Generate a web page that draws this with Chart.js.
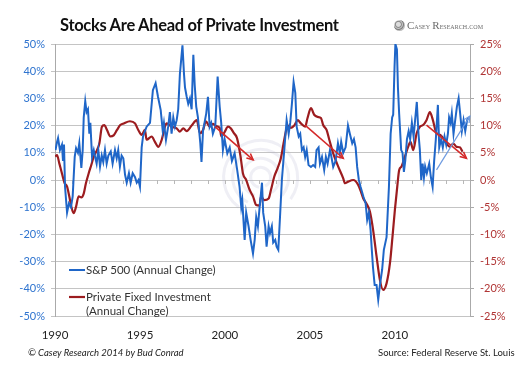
<!DOCTYPE html>
<html>
<head>
<meta charset="utf-8">
<script src="https://cdn.jsdelivr.net/npm/chart.js@4.4.1/dist/chart.umd.min.js"></script>
<style>
  html, body { margin: 0; padding: 0; background: #fff; }
  #wrap { position: relative; width: 521px; height: 380px; overflow: hidden; font-family: Lato, "Open Sans", sans-serif; }
  #chart { position: absolute; left: 0; top: 0; }
  #title { position: absolute; left: 60px; top: 15px; font-weight: bold; font-size: 16.5px; letter-spacing: -0.3px; color: #111; white-space: nowrap; }
  #logo { position: absolute; left: 394px; top: 19px; white-space: nowrap; color: #6b6b6b; font-family: "Liberation Serif", "DejaVu Serif", serif; font-size: 9.2px; font-variant: small-caps; }
  #logo .ico { display: inline-block; width: 11px; height: 11px; border-radius: 50%; vertical-align: -2px; margin-right: 2px; background: radial-gradient(circle at 40% 40%, #ddd 0 2px, #888 3px, #ccc 4px, #777 5px, #bbb 6px); }
  #logo .big { font-size: 11px; }
  #credit { position: absolute; left: 28px; top: 347px; font-style: italic; font-size: 9.5px; color: #222; white-space: nowrap; }
  #source { position: absolute; left: 378px; top: 347px; font-size: 9.5px; color: #222; white-space: nowrap; }
</style>
</head>
<body>
<div id="wrap">
  <canvas id="chart" width="521" height="380"></canvas>
  <div id="title">Stocks Are Ahead of Private Investment</div>
  <div id="logo"><span class="ico"></span><span class="big">C</span>asey <span class="big">R</span>esearch.com</div>
  <div id="credit">© Casey Research 2014 by Bud Conrad</div>
  <div id="source">Source: Federal Reserve St. Louis</div>
</div>
<script>
// S&P 500, annual % change (left axis)
var spxYears = [
  1990.03, 1990.12, 1990.18, 1990.29, 1990.41, 1990.47, 1990.53, 1990.59, 1990.71, 1990.82, 1990.94,
  1991.04, 1991.16, 1991.24, 1991.35, 1991.43, 1991.55, 1991.63, 1991.69, 1991.78, 1991.86, 1991.94,
  1992.02, 1992.08, 1992.18, 1992.28, 1992.35, 1992.45, 1992.55, 1992.65, 1992.75, 1992.84, 1992.94,
  1993.04, 1993.14, 1993.28, 1993.39, 1993.53, 1993.63, 1993.72, 1993.82, 1993.92,
  1994.02, 1994.12, 1994.22, 1994.35, 1994.45, 1994.57, 1994.71, 1994.81, 1994.91,
  1995.00, 1995.10, 1995.18, 1995.39, 1995.59, 1995.76, 1995.92,
  1996.06, 1996.22, 1996.34, 1996.41, 1996.53, 1996.66, 1996.76, 1996.86, 1996.96,
  1997.06, 1997.16, 1997.25, 1997.35, 1997.50, 1997.59, 1997.65, 1997.75, 1997.84, 1997.94,
  1998.04, 1998.14, 1998.22, 1998.31, 1998.41, 1998.55, 1998.62, 1998.71, 1998.90,
  1999.00, 1999.10, 1999.19, 1999.29, 1999.43, 1999.57, 1999.69, 1999.78, 1999.88, 1999.98,
  2000.14, 2000.28, 2000.41, 2000.57, 2000.72, 2000.86, 2000.96,
  2001.02, 2001.16, 2001.25, 2001.39, 2001.51, 2001.65, 2001.75, 2001.84, 2001.94,
  2002.04, 2002.12, 2002.18, 2002.25, 2002.37, 2002.45, 2002.57, 2002.65, 2002.76, 2002.84, 2002.96,
  2003.04, 2003.14, 2003.24, 2003.35, 2003.49, 2003.63, 2003.75, 2003.84, 2003.94,
  2004.04, 2004.14, 2004.22, 2004.34, 2004.43, 2004.53, 2004.63, 2004.72, 2004.81, 2004.92,
  2005.06, 2005.19, 2005.31, 2005.39, 2005.51, 2005.59, 2005.71, 2005.84, 2005.94,
  2006.04, 2006.18, 2006.25, 2006.37, 2006.51, 2006.65, 2006.76, 2006.84, 2006.96,
  2007.10, 2007.24, 2007.35, 2007.49, 2007.59, 2007.69, 2007.78, 2007.88, 2007.98,
  2008.14, 2008.28, 2008.37, 2008.47, 2008.57, 2008.63, 2008.71, 2008.81, 2008.92,
  2009.02, 2009.12, 2009.25, 2009.35, 2009.51, 2009.65, 2009.75, 2009.84, 2009.90, 2009.98,
  2010.03, 2010.12, 2010.18, 2010.25, 2010.37, 2010.45, 2010.53, 2010.61, 2010.71, 2010.81, 2010.90,
  2011.00, 2011.10, 2011.19, 2011.29, 2011.39, 2011.47, 2011.55, 2011.63, 2011.71, 2011.78, 2011.88,
  2012.02, 2012.12, 2012.22, 2012.31, 2012.41, 2012.53, 2012.61, 2012.72, 2012.82, 2012.92,
  2013.02, 2013.12, 2013.19, 2013.28, 2013.35, 2013.45, 2013.55, 2013.65, 2013.75, 2013.84, 2013.94,
  2014.04, 2014.14, 2014.25, 2014.34
];
var spxChange = [
  11, 14, 15.4, 11, 13, 7, 13, -2.5, -12, -8.6, -10,
  -6, 8.5, 11.7, 10, 13.5, 4.4, 11, 23, 29, 25, 26,
  17, 21, 8.5, 11, 8.8, 6, 11, 5, 9, 6.6, 11,
  6, 9, 10.5, 6, 11, 8, 11, 5, 9,
  8, 2, -1, 2.5, -1, 2.5, 1, -1, 0,
  -2.5, 12, 16, 19.6, 21, 33, 35.6,
  30.6, 25.7, 18, 21, 14.7, 19.6, 25, 17, 23,
  19.6, 22, 26, 39, 49.5, 39, 34, 30.6, 28, 30,
  26, 46, 35, 27, 23, 13.5, 6.6, 18, 24.5,
  30.6, 19.6, 21, 17, 19.6, 38, 27, 21, 11, 15,
  9.8, 12, 7, 9.8, 3.7, -2.5, -10,
  -7.5, -22, -12, -17, -22, -27, -22, -13.6, -17,
  -10, -4.9, -1, -12, -17, -24.5, -17, -19.6, -17, -23, -22,
  -24.5, -25.7, -13.6, 0, 11, 22, 17, 21, 28,
  36, 32, 19.6, 16, 17, 11, 12, 8.5, 11, 5.5,
  4.8, 5.5, 4.8, 11, 12, 6, 8.5, 3.7, 8.5,
  6, 11, 9, 4.8, 7, 13.5, 9.8, 14, 10,
  12, 20, 17, 13.5, 15, 12, 4.8, 0, -2.5,
  -6, -8.6, -14.7, -12, -18.4, -24.5, -32, -38.6, -38.6,
  -44, -38.6, -33, -25.7, -21, -2.5, 17, 23, 24, 41.6,
  50, 48, 34, 24.5, 11, 10, 3, 7, 15, 18, 15,
  21, 16, 22, 28.7, 17, 11, 0, 6, 1, 5, 2.5,
  6, 1, -2.5, 7, 15, 27.6, 12, 15, 12, 16,
  13, 17, 23, 21, 24.5, 17, 22, 27, 30, 24.5, 18,
  22, 18, 22, 23
];

// Private fixed investment, annual % change (right axis)
var pfiYears = [
  1990.02, 1990.12, 1990.25, 1990.41, 1990.57, 1990.71, 1990.84, 1990.96,
  1991.10, 1991.24, 1991.39, 1991.55, 1991.69, 1991.82, 1991.98,
  1992.14, 1992.28, 1992.47, 1992.61, 1992.76, 1992.90,
  1993.06, 1993.25, 1993.45, 1993.65, 1993.84,
  1994.04, 1994.41, 1994.71, 1994.90,
  1995.10, 1995.29, 1995.39, 1995.69, 1995.88,
  1996.08, 1996.28, 1996.47, 1996.57, 1996.86,
  1997.16, 1997.35, 1997.55, 1997.75,
  1998.04, 1998.34, 1998.53, 1998.71, 1998.88,
  1999.10, 1999.29, 1999.49, 1999.69, 1999.79, 1999.98,
  2000.18, 2000.34, 2000.53, 2000.71, 2000.92,
  2001.06, 2001.25, 2001.45, 2001.65, 2001.84,
  2002.04, 2002.12, 2002.31, 2002.57, 2002.71, 2002.90,
  2003.10, 2003.29, 2003.49, 2003.69, 2003.88,
  2004.08, 2004.28, 2004.47, 2004.72, 2004.86,
  2005.06, 2005.25, 2005.45, 2005.65, 2005.78, 2005.98,
  2006.14, 2006.37, 2006.66, 2006.96,
  2007.06, 2007.25, 2007.55, 2007.84,
  2008.04, 2008.14, 2008.34, 2008.53, 2008.72, 2008.92,
  2009.12, 2009.31, 2009.51, 2009.71, 2009.86,
  2010.00, 2010.14, 2010.25, 2010.39, 2010.59, 2010.78, 2010.92,
  2011.08, 2011.28, 2011.47, 2011.66, 2011.86,
  2012.06, 2012.22, 2012.45, 2012.65, 2012.84,
  2013.04, 2013.24, 2013.43, 2013.63, 2013.82, 2013.98
];
var pfiChange = [
  4.3, 4.6, 3.1, 1.2, -0.6, -1.2, -3, -4.9,
  -6.1, -4.9, -3, -3.2, -2.5, -0.6, 1.2,
  2.8, 4.3, 5.5, 6.7, 9.8, 10.1,
  9.2, 8, 8.2, 9.2, 10.1,
  10.4, 10.8, 10.4, 9.2,
  8.3, 9.2, 7.4, 8, 7,
  6.1, 7.4, 9.8, 10.4, 9.8,
  9.5, 8.9, 9.5, 9,
  10, 11, 8.6, 9.2, 10.8,
  9.8, 10.3, 9.9, 9.6, 8, 8.8,
  9.8, 9.5, 8.6, 7.7, 4.3,
  1.2, 0, -1.8, -3, -4.6,
  -4.7, -3, -3.7, -3.4, -1.8, 0.6,
  2.2, 4, 7.4, 10, 9.6,
  10, 11, 10.4, 9.8, 11.4,
  13.2, 12, 11.6, 11.4, 10.1, 9.2,
  7.4, 4.9, 2.5, 0.3,
  -0.6, -0.3, 0, -0.9,
  -2.5, -3.4, -4.4, -5.8, -9.2, -14,
  -18.4, -20.2, -19, -15.3, -10.4,
  -5.5, -1.2, 1.8, 2.5, 4.3, 6.1, 7,
  5.5, 8.6, 9.8, 10.1, 11,
  12.5, 11.2, 8.6, 8.3, 7.7,
  6.7, 6.1, 6.7, 6.1, 6, 5.2
];

// trend arrows: [fromYear, fromValue, toYear, toValue]
var pfiTrends = [
  [1999.41, 9.8, 2001.66, 3.7],
  [2004.71, 10.1, 2006.96, 4.0],
  [2011.86, 10.1, 2014.21, 4.0]
];
var spxTrend = [2012.45, 3.7, 2014.41, 23.5];

var yearTicks = [1990, 1995, 2000, 2005, 2010];
var leftTicks = [-50, -40, -30, -20, -10, 0, 10, 20, 30, 40, 50];
var rightTicks = [-25, -20, -15, -10, -5, 0, 5, 10, 15, 20, 25];

var blue = '#1f66c8';
var red = '#9c1c1f';

function toPoints(xs, ys) {
  return xs.map(function (x, i) { return { x: x, y: ys[i] }; });
}

function drawArrow(c, x1, y1, x2, y2, color, width, head) {
  var a = Math.atan2(y2 - y1, x2 - x1);
  c.save();
  c.strokeStyle = color;
  c.lineWidth = width;
  c.beginPath();
  c.moveTo(x1, y1);
  c.lineTo(x2, y2);
  c.stroke();
  c.beginPath();
  c.moveTo(x2 - head * Math.cos(a - 0.45), y2 - head * Math.sin(a - 0.45));
  c.lineTo(x2, y2);
  c.lineTo(x2 - head * Math.cos(a + 0.45), y2 - head * Math.sin(a + 0.45));
  c.stroke();
  c.restore();
}

var decor = {
  id: 'decor',
  beforeDatasetsDraw: function (chart) {
    var c = chart.ctx, x = chart.scales.x, yL = chart.scales.yL;
    // faint logo watermark
    var cx = x.getPixelForValue(2002.1), cy = yL.getPixelForValue(1);
    c.save();
    c.strokeStyle = 'rgba(175,175,205,0.2)';
    c.lineWidth = 3;
    [10, 19, 28, 37].forEach(function (r, i) {
      c.beginPath();
      c.arc(cx, cy, r, Math.PI * (0.55 + i * 0.05), Math.PI * (2.35 - i * 0.05));
      c.stroke();
    });
    c.restore();
    // year ticks on the zero line
    var y0 = yL.getPixelForValue(0);
    c.save();
    c.strokeStyle = '#b8b8b8';
    c.lineWidth = 1;
    for (var yr = 1991; yr <= 2014; yr++) {
      var px = Math.round(x.getPixelForValue(yr)) + 0.5;
      c.beginPath();
      c.moveTo(px, y0);
      c.lineTo(px, y0 + 4);
      c.stroke();
    }
    c.restore();
  },
  afterDatasetsDraw: function (chart) {
    var c = chart.ctx, x = chart.scales.x, yL = chart.scales.yL, yR = chart.scales.yR;
    pfiTrends.forEach(function (t) {
      drawArrow(c, x.getPixelForValue(t[0]), yR.getPixelForValue(t[1]),
        x.getPixelForValue(t[2]), yR.getPixelForValue(t[3]), '#d42a2a', 1.6, 7);
    });
    drawArrow(c, x.getPixelForValue(spxTrend[0]), yL.getPixelForValue(spxTrend[1]),
      x.getPixelForValue(spxTrend[2]), yL.getPixelForValue(spxTrend[3]), '#6f9be0', 1.2, 7);

    // legend inside the plot
    var a = chart.chartArea;
    c.save();
    c.font = '11.5px Lato, "Open Sans", sans-serif';
    c.fillStyle = '#333';
    c.textBaseline = 'middle';
    c.lineWidth = 2;
    c.strokeStyle = blue;
    c.beginPath(); c.moveTo(a.left + 14, a.bottom - 46); c.lineTo(a.left + 30, a.bottom - 46); c.stroke();
    c.fillText('S&P 500 (Annual Change)', a.left + 31, a.bottom - 46);
    c.strokeStyle = red;
    c.lineWidth = 2.2;
    c.beginPath(); c.moveTo(a.left + 14, a.bottom - 19); c.lineTo(a.left + 30, a.bottom - 19); c.stroke();
    c.fillText('Private Fixed Investment', a.left + 31, a.bottom - 19);
    c.fillText('(Annual Change)', a.left + 31, a.bottom - 5);
    c.restore();
  }
};

new Chart(document.getElementById('chart'), {
  type: 'line',
  data: {
    datasets: [
      {
        label: 'S&P 500 (Annual Change)',
        data: toPoints(spxYears, spxChange),
        yAxisID: 'yL',
        borderColor: blue,
        borderWidth: 2,
        pointRadius: 0,
        tension: 0
      },
      {
        label: 'Private Fixed Investment (Annual Change)',
        data: toPoints(pfiYears, pfiChange),
        yAxisID: 'yR',
        borderColor: red,
        borderWidth: 2.2,
        pointRadius: 0,
        cubicInterpolationMode: 'monotone'
      }
    ]
  },
  options: {
    responsive: false,
    animation: false,
    layout: { padding: { top: 44, left: 0, right: 0, bottom: 0 } },
    plugins: { legend: { display: false }, tooltip: { enabled: false } },
    scales: {
      x: {
        type: 'linear',
        min: 1990,
        max: 2014.42,
        afterBuildTicks: function (s) { s.ticks = yearTicks.map(function (v) { return { value: v }; }); },
        afterFit: function (s) { s.height = 64; },
        grid: { display: false },
        border: { display: false },
        ticks: {
          autoSkip: false, maxRotation: 0, padding: 4,
          color: '#222', font: { family: 'Lato, "Open Sans", sans-serif', size: 11.5 },
          callback: function (v) { return String(v); }
        }
      },
      yL: {
        position: 'left',
        min: -50,
        max: 50,
        afterBuildTicks: function (s) { s.ticks = leftTicks.map(function (v) { return { value: v }; }); },
        afterFit: function (s) { s.width = 55; },
        grid: { color: '#c4c4c4', tickLength: 4 },
        border: { display: true, color: '#aaa' },
        ticks: {
          padding: 6, color: '#2f74cf',
          font: { family: 'Lato, "Open Sans", sans-serif', size: 11 },
          callback: function (v) { return v + '%'; }
        }
      },
      yR: {
        position: 'right',
        min: -25,
        max: 25,
        afterBuildTicks: function (s) { s.ticks = rightTicks.map(function (v) { return { value: v }; }); },
        afterFit: function (s) { s.width = 51; },
        grid: { drawOnChartArea: false, color: '#aaa', tickLength: 4 },
        border: { display: true, color: '#aaa' },
        ticks: {
          padding: 6, color: '#b03434',
          font: { family: 'Lato, "Open Sans", sans-serif', size: 11 },
          callback: function (v) { return v + '%'; }
        }
      }
    }
  },
  plugins: [decor]
});
</script>
</body>
</html>
